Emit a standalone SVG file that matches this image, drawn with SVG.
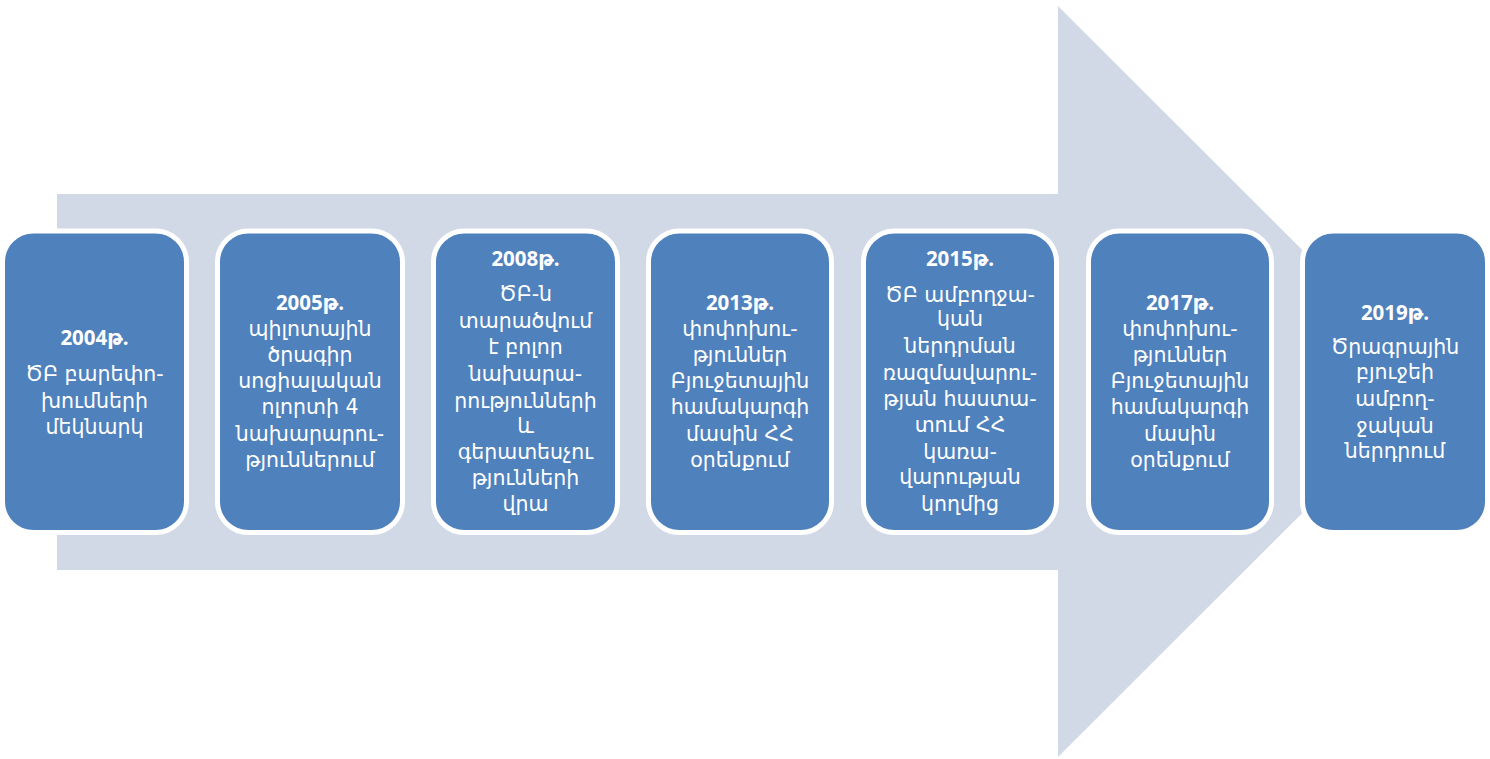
<svg xmlns="http://www.w3.org/2000/svg" width="1490" height="759" viewBox="0 0 1490 759">
  <style>
    .arrow { fill: #D1D9E7; }
    .box { fill: #4F81BD; stroke: #FFFFFF; stroke-width: 5; }
    .t { fill: #FFFFFF; font-family: "DejaVu Sans", "Noto Sans", sans-serif; font-size: 20.5px; text-anchor: middle; }
    .yr { font-family: "Open Sans", "DejaVu Sans", sans-serif; font-weight: bold; font-size: 20.5px; }
  </style>
  <rect width="1490" height="759" fill="#FFFFFF"/>

  <!-- background timeline arrow -->
  <g id="connectors">
    <polygon class="arrow" points="57,194 1058,194 1058,6 1434,381.5 1058,757 1058,570 57,570"/>
  </g>

  <g id="n2004">
    <rect class="box" x="2.5" y="231" width="184" height="301.5" rx="31"/>
    <text class="t"><tspan class="yr" x="94.5" y="345">2004թ.</tspan><tspan x="94.5" y="381">ԾԲ բարեփո-</tspan><tspan x="94.5" y="408">խումների</tspan><tspan x="94.5" y="434">մեկնարկ</tspan></text>
  </g>

  <g id="n2005">
    <rect class="box" x="217.5" y="231" width="185" height="301.5" rx="31"/>
    <text class="t"><tspan class="yr" x="310" y="310">2005թ.</tspan><tspan x="310" y="336">պիլոտային</tspan><tspan x="310" y="362">ծրագիր</tspan><tspan x="310" y="388">սոցիալական</tspan><tspan x="310" y="414">ոլորտի 4</tspan><tspan x="310" y="441">նախարարու-</tspan><tspan x="310" y="467">թյուններում</tspan></text>
  </g>

  <g id="n2008">
    <rect class="box" x="433.5" y="231" width="184" height="301.5" rx="31"/>
    <text class="t"><tspan class="yr" x="525.5" y="266">2008թ.</tspan><tspan x="525.5" y="301">ԾԲ-ն</tspan><tspan x="525.5" y="328">տարածվում</tspan><tspan x="525.5" y="354">է բոլոր</tspan><tspan x="525.5" y="381">նախարա-</tspan><tspan x="525.5" y="408">րությունների</tspan><tspan x="525.5" y="433">և</tspan><tspan x="525.5" y="459">գերատեսչու</tspan><tspan x="525.5" y="485">թյունների</tspan><tspan x="525.5" y="511">վրա</tspan></text>
  </g>

  <g id="n2013">
    <rect class="box" x="648.5" y="231" width="183" height="301.5" rx="31"/>
    <text class="t"><tspan class="yr" x="740" y="310">2013թ.</tspan><tspan x="740" y="336">փոփոխու-</tspan><tspan x="740" y="362">թյուններ</tspan><tspan x="740" y="388">Բյուջետային</tspan><tspan x="740" y="414">համակարգի</tspan><tspan x="740" y="441">մասին ՀՀ</tspan><tspan x="740" y="467">օրենքում</tspan></text>
  </g>

  <g id="n2015">
    <rect class="box" x="863.5" y="231" width="193" height="301.5" rx="31"/>
    <text class="t"><tspan class="yr" x="960" y="266">2015թ.</tspan><tspan x="960" y="302">ԾԲ ամբողջա-</tspan><tspan x="960" y="326">կան</tspan><tspan x="960" y="353">ներդրման</tspan><tspan x="960" y="380">ռազմավարու-</tspan><tspan x="960" y="406">թյան հաստա-</tspan><tspan x="960" y="432">տում ՀՀ</tspan><tspan x="960" y="459">կառա-</tspan><tspan x="960" y="484">վարության</tspan><tspan x="960" y="511">կողմից</tspan></text>
  </g>

  <g id="n2017">
    <rect class="box" x="1088.5" y="231" width="183" height="301.5" rx="31"/>
    <text class="t"><tspan class="yr" x="1180" y="310">2017թ.</tspan><tspan x="1180" y="336">փոփոխու-</tspan><tspan x="1180" y="362">թյուններ</tspan><tspan x="1180" y="388">Բյուջետային</tspan><tspan x="1180" y="414">համակարգի</tspan><tspan x="1180" y="441">մասին</tspan><tspan x="1180" y="467">օրենքում</tspan></text>
  </g>

  <g id="n2019">
    <rect class="box" x="1302.5" y="231" width="185" height="301.5" rx="31"/>
    <text class="t"><tspan class="yr" x="1395" y="320">2019թ.</tspan><tspan x="1395" y="354">Ծրագրային</tspan><tspan x="1395" y="379">բյուջեի</tspan><tspan x="1395" y="406">ամբող-</tspan><tspan x="1395" y="433">ջական</tspan><tspan x="1395" y="458">ներդրում</tspan></text>
  </g>
</svg>
